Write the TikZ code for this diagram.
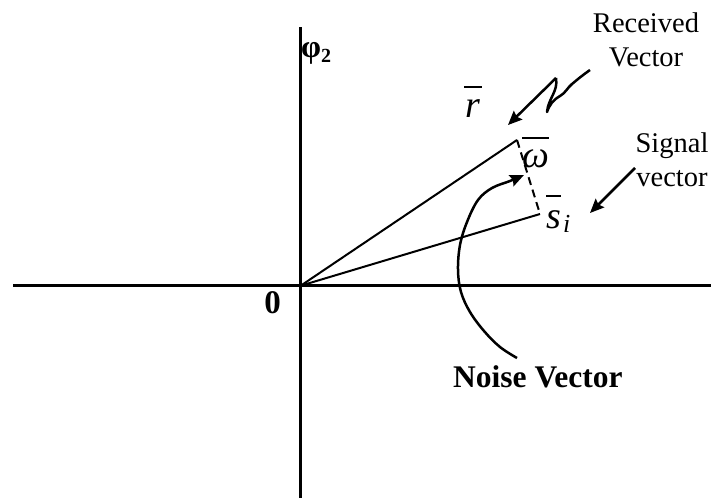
\documentclass[tikz,border=0pt]{standalone}
\usepackage{fontspec}
\setmainfont{Liberation Serif}[ItalicFont={Liberation Serif Italic},BoldFont={Liberation Serif Bold}]
\newfontfamily\timesit{Liberation Serif Italic}
\usetikzlibrary{arrows.meta}
\newcommand\ovl[3]{\vbox{\hrule height 1.8pt\kern#1\hbox{\kern#3#2\kern#3}}}
\begin{document}
\begin{tikzpicture}[x=1pt,y=1pt,
  lab/.style={inner sep=0pt,font=\fontsize{28.5}{34}\selectfont,align=center},
  axis/.style={line width=3pt},
  vec/.style={line width=2pt},
  pointer/.style={line width=2.5pt,-{Stealth[length=14pt,width=12pt,inset=2pt]}},
  sym/.style={inner sep=0pt,anchor=base west,font=\fontsize{38}{38}\timesit}]
\useasboundingbox (0,0) rectangle (711,-498);
% axes
\coordinate (xl) at (13,-285.7);
\coordinate (xr) at (711,-285.7);
\coordinate (yt) at (300.7,-27);
\coordinate (yb) at (300.7,-498);
\coordinate (O) at (300.7,-285.7);
\draw[axis] (xl) -- (xr);
\draw[axis] (yt) -- (yb);
% vectors
\coordinate (R) at (517,-140);
\coordinate (S) at (540,-214);
\draw[vec] (O) -- (R);
\draw[vec] (O) -- (S);
\draw[vec,dash pattern=on 8pt off 5pt] (R) -- (S);
% labels
\node[inner sep=0pt,anchor=base west] (phi) at (301,-57)
  {{\fontsize{32}{32}\selectfont\bfseries φ}\raisebox{-5pt}{\fontsize{20}{20}\selectfont\bfseries 2}};
\node[inner sep=0pt,anchor=base east,font=\fontsize{33}{33}\selectfont\bfseries] (zero) at (281,-313) {0};
\node[sym] (rbar) at (464,-117) {\ovl{11pt}{r}{1.5pt}};
\node[sym] (wbar) at (522,-167) {\ovl{10pt}{ω}{0pt}};
\node[sym] (sbar) at (546,-228) {\ovl{13pt}{s}{0pt}};
\node[inner sep=0pt,anchor=base west,font=\fontsize{26}{26}\timesit] (sub) at (563,-232) {i};
\node[lab] (recv) at (646,-40) {Received\\Vector};
\node[lab] (sig) at (672,-160) {Signal\\vector};
\node[inner sep=0pt,anchor=base west,font=\fontsize{31.5}{32}\selectfont\bfseries] (noise) at (453,-387) {Noise Vector};
% pointers
\coordinate (rs) at (590,-70);
\coordinate (rb) at (547,-112);
\coordinate (rp) at (556,-78);
\coordinate (rt) at (508,-125);
\draw[line width=2.5pt,line join=round] (rs) to[out=215,in=40] (572,-84) to[out=220,in=30] (560,-96) to[out=210,in=70] (rb) to[out=85,in=-80] (rp);
\draw[pointer] (rp) -- (rt);
\coordinate (ss) at (635,-168);
\coordinate (st) at (590,-213);
\draw[pointer] (ss) -- (st);
\coordinate (ns) at (517,-358);
\coordinate (nt) at (524,-175);
\draw[pointer,line width=2.5pt] plot[smooth,tension=0.6] coordinates {(ns) (500,-347) (484,-331) (470,-312) (461,-292) (458,-270) (460,-245) (467,-222) (478,-200) (492,-188) (510,-181) (nt)};
\end{tikzpicture}
\end{document}
